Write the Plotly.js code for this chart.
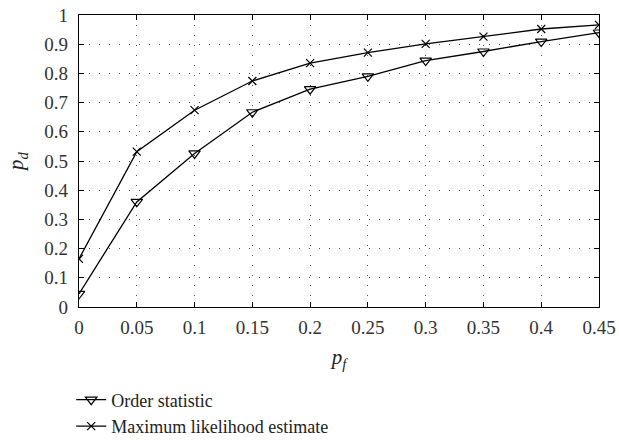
<!DOCTYPE html>
<html><head><meta charset="utf-8">
<script src="https://cdn.plot.ly/plotly-3.0.1.min.js"></script>
<style>body{margin:0;background:#fff}</style>
</head><body>
<div id="chart" style="width:619px;height:443px"></div>
<script>
var pf = [0, 0.05, 0.1, 0.15, 0.2, 0.25, 0.3, 0.35, 0.4, 0.45];
var orderStat = [0.045, 0.36, 0.526, 0.667, 0.746, 0.79, 0.844, 0.875, 0.909, 0.94];
var mle = [0.165, 0.532, 0.674, 0.774, 0.835, 0.871, 0.901, 0.926, 0.952, 0.966];
var xTicks = [0, 0.05, 0.1, 0.15, 0.2, 0.25, 0.3, 0.35, 0.4, 0.45];
var xTickText = ["0", "0.05", "0.1", "0.15", "0.2", "0.25", "0.3", "0.35", "0.4", "0.45"];
var yTicks = [0, 0.1, 0.2, 0.3, 0.4, 0.5, 0.6, 0.7, 0.8, 0.9, 1];
var yTickText = ["0", "0.1", "0.2", "0.3", "0.4", "0.5", "0.6", "0.7", "0.8", "0.9", "1"];

var font = "Liberation Serif, DejaVu Serif, serif";
var traces = [
  {x: pf, y: orderStat, name: "Order statistic", mode: "lines+markers",
   line: {color: "#000", width: 1.3},
   marker: {symbol: "triangle-down-open", size: 10, color: "#000", line: {width: 1.2, color: "#000"}}},
  {x: pf, y: mle, name: "Maximum likelihood estimate", mode: "lines+markers",
   line: {color: "#000", width: 1.3},
   marker: {symbol: "x-thin-open", size: 8, color: "#000", line: {width: 1.2, color: "#000"}}}
];
var axisCommon = {
  showline: true, mirror: "ticks", linecolor: "#000", linewidth: 1.3,
  ticks: "inside", ticklen: 5, tickcolor: "#000", tickwidth: 1,
  showgrid: true, gridcolor: "#555", gridwidth: 1, griddash: "1px,9px",
  zeroline: false, tickfont: {family: font, size: 19, color: "#333"}
};
var layout = {
  width: 619, height: 443,
  margin: {l: 79, r: 20, t: 15, b: 136, autoexpand: false},
  paper_bgcolor: "#fff", plot_bgcolor: "#fff",
  font: {family: font, color: "#222"},
  xaxis: Object.assign({}, axisCommon, {range: [0, 0.45], tickvals: xTicks, ticktext: xTickText,
    ticklabelstandoff: 3,
    title: {text: "<i>p<sub>f</sub></i>", font: {family: font, size: 21}, standoff: 12}}),
  yaxis: Object.assign({}, axisCommon, {range: [0, 1], tickvals: yTicks, ticktext: yTickText,
    ticklabelstandoff: 6,
    title: {text: "<i>p<sub>d</sub></i>", font: {family: font, size: 21}, standoff: 14}}),
  showlegend: true,
  legend: {x: -0.015, xanchor: "left", y: -0.255, yanchor: "top", orientation: "v",
    font: {family: font, size: 18, color: "#222"}, bgcolor: "rgba(0,0,0,0)", tracegroupgap: 0}
};
Plotly.newPlot("chart", traces, layout, {staticPlot: true});
</script>
</body></html>
